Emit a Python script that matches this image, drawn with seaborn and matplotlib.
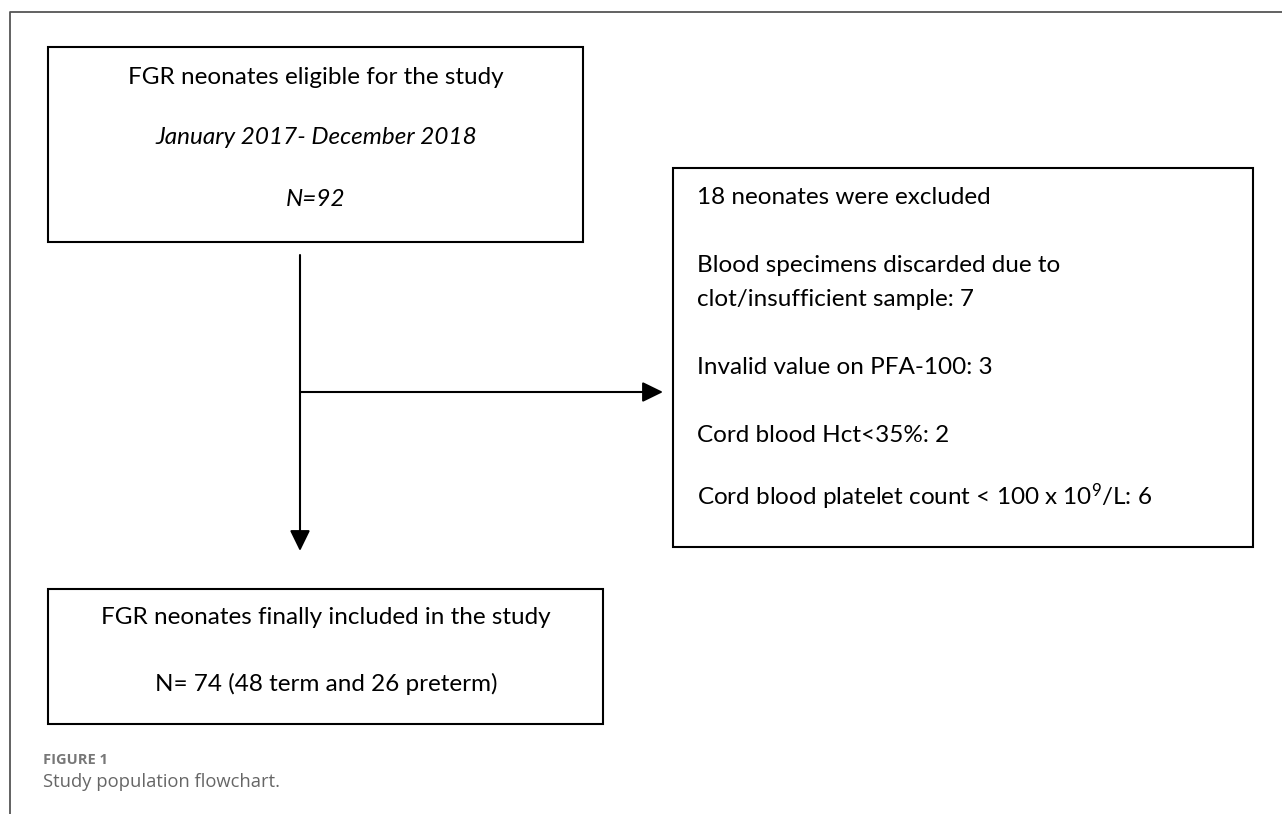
import matplotlib
matplotlib.use("Agg")
import matplotlib.pyplot as plt
import matplotlib.patches as mpatches
import seaborn as sns

# flowchart numbers
eligible_n = 92
period = "January 2017- December 2018"
excl_reasons = ["Blood specimens discarded due to\nclot/insufficient sample",
                "Invalid value on PFA-100",
                "Cord blood Hct<35%",
                r"Cord blood platelet count < 100 x $\mathregular{10^9}$/L"]
excl_counts = [7, 3, 2, 6]
n_term = 48
n_preterm = 26

n_excluded = sum(excl_counts)
n_included = n_term + n_preterm

sns.set_theme(style="white")
plt.rcParams['font.family'] = ['Lato', 'DejaVu Sans']
plt.rcParams['mathtext.fontset'] = 'custom'
plt.rcParams['mathtext.rm'] = 'Lato'
plt.rcParams['text.color'] = 'black'

fig = plt.figure(figsize=(12.82, 8.14), dpi=100)
ax = fig.add_axes([0, 0, 1, 1])
ax.set_xlim(0, 1282)
ax.set_ylim(814, 0)
ax.axis('off')

# outer frame (top + left only)
ax.plot([10, 10, 1282], [814, 12, 12], color='#555555', lw=1.3)

def box(x0, y0, x1, y1):
    ax.add_patch(mpatches.Rectangle((x0, y0), x1 - x0, y1 - y0, fill=False,
                                    edgecolor='black', lw=1.5))

fs = 17.5
# box 1 - eligible
box(48, 47, 583, 242)
ax.text(316, 77, "FGR neonates eligible for the study", ha='center', va='center', fontsize=fs)
ax.text(316, 138, period, ha='center', va='center', fontsize=fs, style='italic')
ax.text(316, 200, f"N={eligible_n}", ha='center', va='center', fontsize=fs, style='italic')

# box 2 - excluded
box(673, 168, 1253, 547)
lines = [f"{n_excluded} neonates were excluded"]
for r, c in zip(excl_reasons, excl_counts):
    lines.extend(f"{r}: {c}".split("\n"))
line_y = [197, 265, 300, 368, 436, 497]
for s, y in zip(lines, line_y):
    ax.text(697, y, s, ha='left', va='center', fontsize=fs)

# box 3 - included
box(48, 589, 603, 724)
ax.text(326, 617, "FGR neonates finally included in the study", ha='center', va='center', fontsize=fs)
ax.text(326, 684, f"N= {n_included} ({n_term} term and {n_preterm} preterm)",
        ha='center', va='center', fontsize=fs)

# arrows
arr = dict(arrowstyle='-|>,head_length=0.45,head_width=0.22', mutation_scale=28,
           lw=1.5, color='black', shrinkA=0, shrinkB=0)
ax.annotate("", xy=(300, 551), xytext=(300, 255), arrowprops=arr)
ax.annotate("", xy=(663, 392), xytext=(300, 392), arrowprops=arr)

# caption
ax.text(43, 760, "FIGURE 1", ha='left', va='center', fontsize=10.5, fontweight='bold',
        color='#777777', family=['Open Sans', 'DejaVu Sans'])
ax.text(43, 782, "Study population flowchart.", ha='left', va='center', fontsize=13.2,
        color='#666666', family=['Open Sans', 'DejaVu Sans'])

fig.savefig("out.png", dpi=100, facecolor='white')
